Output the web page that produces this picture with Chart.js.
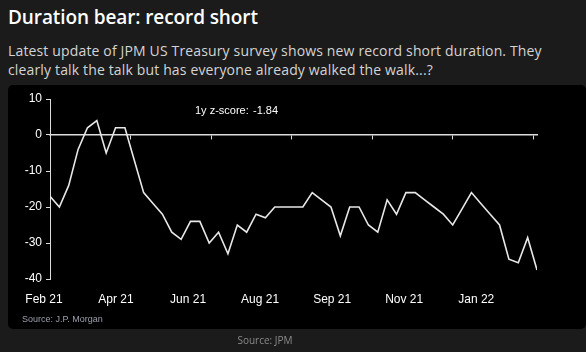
<!DOCTYPE html>
<html>
<head>
<meta charset="utf-8">
<script src="https://cdn.jsdelivr.net/npm/chart.js@4.4.1/dist/chart.umd.min.js"></script>
<style>
  body { margin: 0; background: #1b1b1b; width: 586px; height: 352px; overflow: hidden; font-family: "Open Sans", sans-serif; }
  #title { position: absolute; left: 8px; top: 4px; color: #fff; font-size: 19px; font-weight: 600; letter-spacing: -0.1px; }
  #sub { position: absolute; left: 8px; top: 41px; width: 545px; color: #d4d4d4; font-size: 14px; line-height: 19px; letter-spacing: 0.15px; }
  #panel { position: absolute; left: 8px; top: 85px; width: 578px; height: 244px; background: #000; border-radius: 5px; }
  #src { position: absolute; left: 14px; top: 229px; color: #9c9fae; font-size: 9px; font-family: "Liberation Sans", Arial, sans-serif; }
  #foot { position: absolute; left: 0; width: 530px; top: 333px; text-align: center; color: #8a8a8a; font-size: 10px; }
</style>
</head>
<body>
<div id="title">Duration bear: record short</div>
<div id="sub">Latest update of JPM US Treasury survey shows new record short duration. They clearly talk the talk but has everyone already walked the walk...?</div>
<div id="panel">
  <canvas id="chart" width="578" height="244"></canvas>
  <div id="src">Source: J.P. Morgan</div>
</div>
<div id="foot">Source: JPM</div>
<script>
// weekly positioning survey, net long/short
const positioning = [
  -17, -20, -14, -4, 2, 4, -5, 2, 2, -7,
  -16, -19, -22, -27, -29, -24, -24, -30, -27, -33,
  -25, -27, -22, -23, -20, -20, -20, -20, -16, -18,
  -20, -28, -20, -20, -25, -27, -18, -22, -16, -16,
  -18, -20, -22, -25, -20.5, -16, -19, -22, -25, -34.5,
  -35.5, -28.5, -37.5
];
const monthLabels = ['Feb 21', 'Apr 21', 'Jun 21', 'Aug 21', 'Sep 21', 'Nov 21', 'Jan 22'];
const yTicks = [10, 0, -10, -20, -30, -40];
const zScoreText = ['1y z-score:', '-1.84'];

const axisFont = { family: '"Liberation Sans Narrow", "Liberation Sans", Arial, sans-serif', size: 12 };

const zLabel = {
  id: 'zLabel',
  afterDraw(chart) {
    const { ctx, chartArea } = chart;
    ctx.save();
    ctx.fillStyle = '#fff';
    ctx.font = '11px "Liberation Sans", Arial, sans-serif';
    ctx.textBaseline = 'middle';
    ctx.fillText(zScoreText[0], chartArea.left + 145, chartArea.top + 12);
    ctx.fillText(zScoreText[1], chartArea.left + 203, chartArea.top + 12);
    ctx.restore();
  }
};

new Chart(document.getElementById('chart'), {
  type: 'line',
  data: {
    datasets: [{
      data: positioning.map((v, i) => ({ x: i, y: v })),
      borderColor: '#e8e8e8',
      borderWidth: 1.6,
      pointRadius: 0,
      tension: 0,
      xAxisID: 'x',
      yAxisID: 'y'
    }]
  },
  options: {
    responsive: false,
    animation: false,
    layout: { padding: { top: 14, right: 49, bottom: 20, left: 0 } },
    plugins: { legend: { display: false }, tooltip: { enabled: false } },
    scales: {
      x: {
        type: 'linear',
        min: 0,
        max: positioning.length - 1,
        position: { y: 0 },
        afterBuildTicks: s => { s.ticks = [1, 2, 3, 4, 5, 6].map(i => ({ value: i * 8.6 })); },
        ticks: { display: false },
        grid: { drawOnChartArea: false, drawTicks: true, tickLength: 4, color: '#ddd', lineWidth: 1 },
        border: { display: true, color: '#ddd', width: 1.5 }
      },
      months: {
        type: 'linear',
        position: 'bottom',
        min: 0,
        max: 6.76,
        afterBuildTicks: s => { s.ticks = monthLabels.map((m, i) => ({ value: i })); },
        afterFit: s => { s.height = 30; },
        ticks: {
          color: '#fff',
          font: axisFont,
          labelOffset: -6,
          padding: 5,
          maxRotation: 0,
          autoSkip: false,
          callback: v => monthLabels[v]
        },
        grid: { display: false },
        border: { display: false }
      },
      y: {
        min: -40,
        max: 10,
        afterBuildTicks: s => { s.ticks = yTicks.map(v => ({ value: v })); },
        afterFit: s => { s.width = 42; },
        ticks: { color: '#fff', font: axisFont, padding: 4 },
        grid: { drawOnChartArea: false, drawTicks: true, tickLength: 4, color: '#ddd' },
        border: { display: true, color: '#ddd', width: 1 }
      }
    }
  },
  plugins: [zLabel]
});
</script>
</body>
</html>
